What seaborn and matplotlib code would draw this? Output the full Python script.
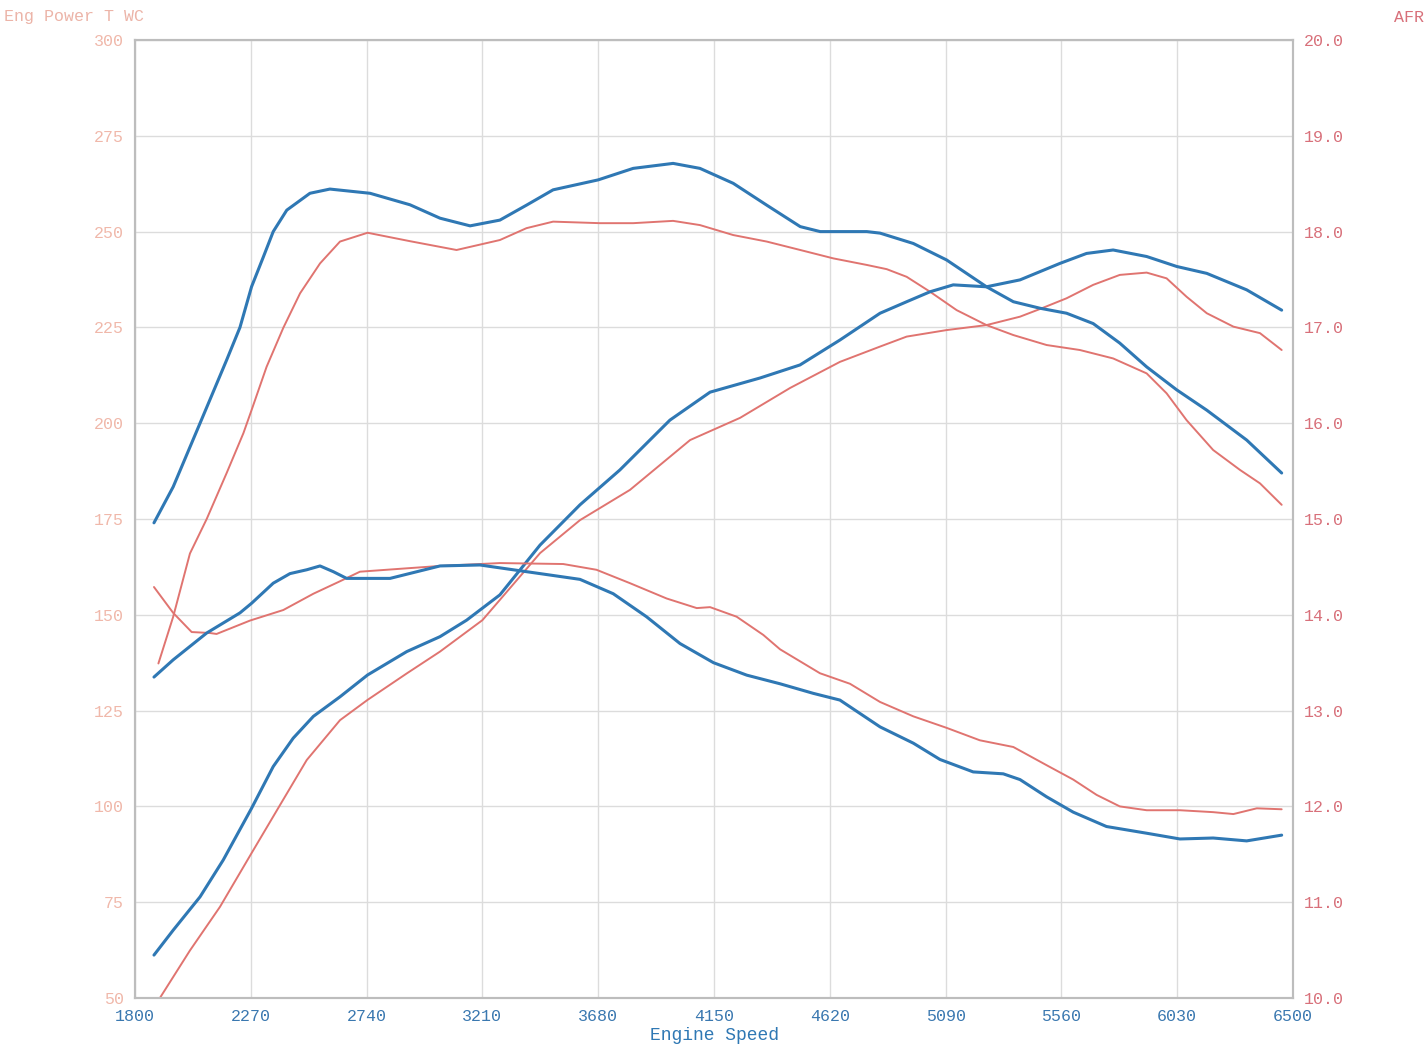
"""
Dyno sheet: torque / power / AFR vs engine speed, two runs (blue, red).
Values read off the reference chart.
"""

import matplotlib
matplotlib.use('Agg')
import matplotlib.pyplot as plt
import seaborn as sns

# ── Data ──────────────────────────────────────────────────────────────────────

# blue run, torque
BLUE_TQ_RPM = [1877, 1955, 2064, 2172, 2226, 2273, 2321, 2361, 2416, 2510, 2591,
               2754, 2916, 3038, 3160, 3281, 3389, 3497, 3680, 3822, 3984, 4093,
               4228, 4364, 4500, 4581, 4770, 4824, 4959, 5094, 5175, 5256, 5365,
               5473, 5581, 5689, 5797, 5906, 6028, 6150, 6312, 6454]
BLUE_TQ = [174.0, 183.4, 200.0, 216.5, 225.0, 235.6, 243.4, 250.0, 255.6, 260.0, 261.1,
           260.0, 257.0, 253.5, 251.5, 253.0, 256.9, 260.9, 263.5, 266.5, 267.8, 266.5,
           262.6, 256.9, 251.3, 250.0, 250.0, 249.6, 246.9, 242.6, 239.1, 235.6, 231.7,
           230.0, 228.7, 226.0, 220.9, 214.7, 208.7, 203.4, 195.6, 187.0]

# red run, torque
RED_TQ_RPM = [1895, 1955, 2023, 2091, 2172, 2240, 2273, 2334, 2402, 2470, 2551,
              2632, 2744, 2916, 3105, 3281, 3389, 3497, 3687, 3822, 3984, 4093,
              4228, 4364, 4500, 4635, 4770, 4851, 4932, 5027, 5135, 5256, 5365,
              5500, 5635, 5770, 5906, 5987, 6068, 6176, 6285, 6366, 6454]
RED_TQ = [137.3, 149.5, 166.0, 175.0, 187.0, 197.4, 203.4, 214.7, 224.9, 233.9, 241.7,
          247.4, 249.7, 247.5, 245.2, 247.8, 250.9, 252.6, 252.2, 252.2, 252.8, 251.7,
          249.1, 247.4, 245.2, 243.0, 241.3, 240.2, 238.2, 234.3, 229.5, 225.6, 223.0,
          220.4, 219.1, 216.9, 213.0, 207.8, 200.8, 193.0, 187.8, 184.3, 178.7]

# blue run, power
BLUE_PW_RPM = [1877, 1955, 2064, 2158, 2273, 2361, 2442, 2524, 2632, 2744, 2903,
               3038, 3146, 3281, 3444, 3606, 3768, 3971, 4134, 4337, 4499, 4661,
               4824, 4932, 5027, 5121, 5256, 5392, 5554, 5662, 5770, 5906, 6028,
               6150, 6312, 6454]
BLUE_PW = [61.2, 67.7, 76.4, 86.0, 99.5, 110.4, 117.8, 123.5, 128.6, 134.3, 140.4,
           144.3, 148.6, 155.2, 168.2, 178.7, 187.8, 200.8, 208.1, 211.8, 215.2, 221.7,
           228.7, 231.7, 234.3, 236.1, 235.6, 237.4, 241.7, 244.3, 245.2, 243.5, 240.9,
           239.1, 234.8, 229.5]

# red run, power
RED_PW_RPM = [1901, 2023, 2145, 2273, 2389, 2497, 2632, 2744, 2903, 3038, 3210,
              3281, 3444, 3606, 3809, 4053, 4256, 4459, 4661, 4824, 4932, 5094,
              5256, 5392, 5473, 5581, 5689, 5797, 5906, 5987, 6068, 6150, 6258,
              6366, 6454]
RED_PW = [50.0, 62.4, 73.8, 87.8, 100.4, 112.1, 122.5, 127.8, 134.7, 140.4, 148.6,
          153.9, 166.1, 174.7, 182.6, 195.6, 201.4, 209.2, 216.0, 220.0, 222.6, 224.3,
          225.6, 227.8, 229.8, 232.6, 236.1, 238.7, 239.3, 237.8, 233.0, 228.7, 225.2,
          223.5, 219.1]

# blue run, AFR (right axis)
BLUE_AFR_RPM = [1877, 1955, 2091, 2226, 2273, 2361, 2429, 2497, 2551, 2605, 2659,
                2768, 2835, 3038, 3200, 3335, 3471, 3606, 3741, 3876, 4012, 4148,
                4283, 4418, 4553, 4661, 4824, 4959, 5067, 5202, 5324, 5392, 5500,
                5608, 5743, 5906, 6041, 6176, 6312, 6454]
BLUE_AFR = [13.35, 13.53, 13.81, 14.02, 14.12, 14.33, 14.43, 14.47, 14.51, 14.45, 14.38,
            14.38, 14.38, 14.51, 14.52, 14.47, 14.42, 14.37, 14.22, 13.98, 13.70, 13.50,
            13.37, 13.28, 13.18, 13.11, 12.83, 12.66, 12.49, 12.36, 12.34, 12.28, 12.10,
            11.94, 11.79, 11.72, 11.66, 11.67, 11.64, 11.70]

# red run, AFR (right axis)
RED_AFR_RPM = [1877, 1955, 2030, 2104, 2131, 2267, 2402, 2524, 2632, 2713, 2875,
               3038, 3281, 3538, 3673, 3809, 3958, 4080, 4134, 4242, 4350, 4418,
               4580, 4702, 4824, 4959, 5094, 5229, 5365, 5500, 5608, 5703, 5797,
               5906, 6041, 6176, 6258, 6353, 6454]
RED_AFR = [14.29, 14.02, 13.82, 13.81, 13.80, 13.94, 14.05, 14.22, 14.35, 14.45, 14.48,
           14.51, 14.54, 14.53, 14.47, 14.33, 14.17, 14.07, 14.08, 13.98, 13.79, 13.64,
           13.39, 13.28, 13.09, 12.94, 12.82, 12.69, 12.62, 12.43, 12.28, 12.12, 12.00,
           11.96, 11.96, 11.94, 11.92, 11.98, 11.97]

X_TICKS = [1800, 2270, 2740, 3210, 3680, 4150, 4620, 5090, 5560, 6030, 6500]
Y_TICKS = [50, 75, 100, 125, 150, 175, 200, 225, 250, 275, 300]
AFR_TICKS = [10.0, 11.0, 12.0, 13.0, 14.0, 15.0, 16.0, 17.0, 18.0, 19.0, 20.0]

BLUE = '#2f78b4'
RED = '#e07470'
GRID = '#dcdcdc'

# ── Style ─────────────────────────────────────────────────────────────────────

sns.set_theme(style='white')
plt.rcParams['font.family'] = ['Liberation Mono', 'DejaVu Sans Mono']

fig = plt.figure(figsize=(14.28, 10.57), dpi=100)
ax = fig.add_axes([135 / 1428, 1 - 998 / 1057, 1158 / 1428, 958 / 1057])
ax2 = ax.twinx()

# ── Curves (red first, blue on top) ───────────────────────────────────────────

sns.lineplot(x=RED_TQ_RPM, y=RED_TQ, ax=ax, color=RED, linewidth=1.4)
sns.lineplot(x=RED_PW_RPM, y=RED_PW, ax=ax, color=RED, linewidth=1.4)
sns.lineplot(x=BLUE_TQ_RPM, y=BLUE_TQ, ax=ax, color=BLUE, linewidth=2.2)
sns.lineplot(x=BLUE_PW_RPM, y=BLUE_PW, ax=ax, color=BLUE, linewidth=2.2)
sns.lineplot(x=RED_AFR_RPM, y=RED_AFR, ax=ax2, color=RED, linewidth=1.4)
sns.lineplot(x=BLUE_AFR_RPM, y=BLUE_AFR, ax=ax2, color=BLUE, linewidth=2.2)

# ── Axes ──────────────────────────────────────────────────────────────────────

ax.set_xlim(1800, 6500)
ax.set_ylim(50, 300)
ax2.set_ylim(10, 20)

ax.set_xticks(X_TICKS)
ax.set_yticks(Y_TICKS)
ax2.set_yticks(AFR_TICKS)
ax2.set_yticklabels([f'{v:.1f}' for v in AFR_TICKS])

ax.grid(True, color=GRID, linewidth=1.0)
ax2.grid(False)
for a in (ax, ax2):
    for sp in a.spines.values():
        sp.set_color('#bdbdbd')
        sp.set_linewidth(1.5)

ax.tick_params(axis='x', colors='#3a78b0', labelsize=12, length=0, pad=8)
ax.tick_params(axis='y', colors='#f0b8aa', labelsize=12, length=0, pad=8)
ax2.tick_params(axis='y', colors='#d8707a', labelsize=12, length=0, pad=8)

ax.set_xlabel('Engine Speed', color='#2f78b4', fontsize=13, labelpad=2)
ax.set_ylabel('')
ax2.set_ylabel('')

fig.text(4 / 1428, 1 - 17 / 1057, 'Eng Power T WC', color='#ecb4a8',
         fontsize=12, va='center', ha='left')
fig.text(1424 / 1428, 1 - 17 / 1057, 'AFR', color='#d8707a',
         fontsize=12, va='center', ha='right')

fig.savefig('out.png', dpi=100)
